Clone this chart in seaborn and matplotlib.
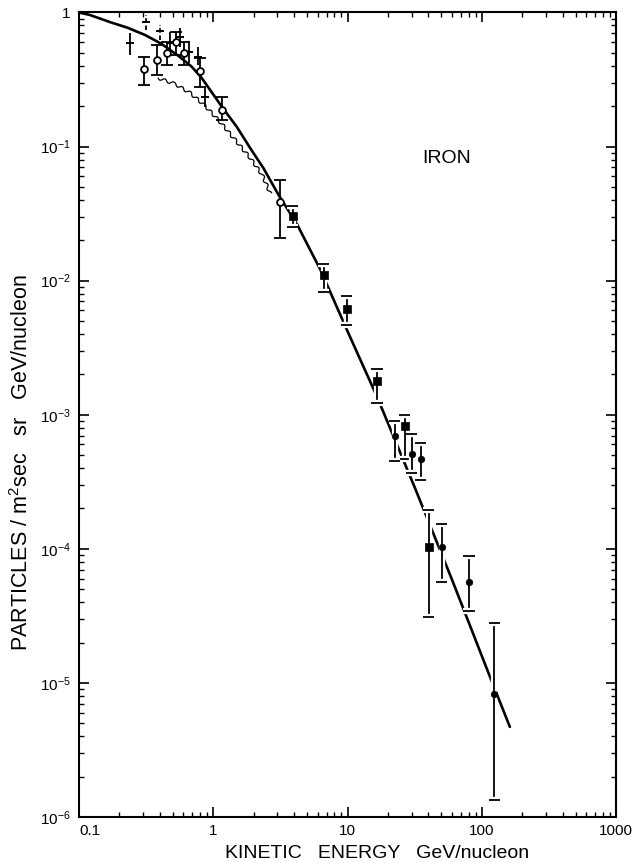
import matplotlib
matplotlib.use("Agg")
import numpy as np
import pandas as pd
import matplotlib.pyplot as plt
import matplotlib.patheffects as pe
from matplotlib.ticker import LogLocator, NullFormatter
import seaborn as sns

# Fitted iron spectrum (kinetic energy in GeV/nucleon, flux)
curve_e = [0.1, 0.12, 0.175, 0.23, 0.31, 0.41, 0.55, 0.69, 0.82, 1.0, 1.16, 1.5,
           1.89, 2.37, 3.07, 4.2, 6.3, 10, 16.6, 32, 60, 120, 162]
curve_flux = [1.0, 0.96, 0.84, 0.77, 0.68, 0.585, 0.475, 0.395, 0.325, 0.245, 0.198, 0.14,
              0.097, 0.0688, 0.0435, 0.0264, 0.012, 0.0042, 0.00136, 2.8e-4, 5.9e-5, 1.0e-5, 4.7e-6]

# Solar-modulated reference spectrum (wavy trace)
wiggle_e = [0.389, 0.52, 0.674, 0.872, 1.128, 1.459, 1.888, 2.321, 2.663]
wiggle_flux = [0.3245, 0.2927, 0.2508, 0.2006, 0.1524, 0.1118, 0.0821, 0.0613, 0.0447]

# Balloon data, crosses
cross_e = [0.24, 0.477, 0.568, 0.66, 0.764, 0.87]
cross_flux = [0.59, 0.59, 0.66, 0.51, 0.468, 0.235]
cross_lo = [0.485, 0.50, 0.556, 0.418, 0.406, 0.198]
cross_hi = [0.70, 0.715, 0.766, 0.605, 0.556, 0.272]

# Crosses with dashed uncertainty
dash_e = [0.318, 0.40]
dash_flux = [0.849, 0.724]
dash_lo = [0.744, 0.627]
dash_hi = [0.953, 0.811]

# Open circles
open_e = [0.307, 0.38, 0.45, 0.53, 0.61, 0.80, 1.16, 3.12]
open_flux = [0.379, 0.442, 0.50, 0.605, 0.50, 0.368, 0.187, 0.0387]
open_lo = [0.288, 0.342, 0.406, 0.48, 0.406, 0.279, 0.158, 0.0207]
open_hi = [0.463, 0.572, 0.605, 0.72, 0.605, 0.455, 0.235, 0.0562]

# Filled squares
sq_e = [3.9, 6.65, 9.84, 16.6, 26.6, 40.4]
sq_flux = [0.0303, 0.01094, 0.0062, 0.00179, 0.000825, 1.03e-4]
sq_lo = [0.0252, 0.00825, 0.00471, 0.00123, 0.000471, 3.1e-5]
sq_hi = [0.036, 0.0133, 0.00766, 0.0022, 0.001, 1.96e-4]

# Filled circles
dot_e = [22.4, 30.0, 35.1, 50.3, 80.4, 123.6]
dot_flux = [6.95e-4, 5.13e-4, 4.66e-4, 1.03e-4, 5.65e-5, 8.3e-6]
dot_lo = [4.52e-4, 3.7e-4, 3.25e-4, 5.7e-5, 3.42e-5, 1.33e-6]
dot_hi = [9.0e-4, 7.24e-4, 6.16e-4, 1.52e-4, 8.8e-5, 2.79e-5]

x_ticks = [0.1, 1, 10, 100, 1000]
x_ticklabels = ["0.1", "1", "10", "100", "1000"]
y_ticks = [1e-6, 1e-5, 1e-4, 1e-3, 1e-2, 1e-1, 1]
y_ticklabels = ["10$^{-6}$", "10$^{-5}$", "10$^{-4}$", "10$^{-3}$",
                "10$^{-2}$", "10$^{-1}$", "1"]

sns.set_theme(style="ticks")
plt.rcParams["font.family"] = ["Liberation Sans", "DejaVu Sans"]
plt.rcParams["mathtext.fontset"] = "custom"
plt.rcParams["mathtext.rm"] = "Liberation Sans"
plt.rcParams["mathtext.it"] = "Liberation Sans:italic"
plt.rcParams["mathtext.bf"] = "Liberation Sans:bold"

W, H = 632, 863
fig = plt.figure(figsize=(W / 100, H / 100), dpi=100)
fig.patch.set_facecolor("white")
ax = fig.add_axes([79 / W, 1 - 817 / H, (616 - 79) / W, (817 - 12.5) / H])
ax.set_facecolor("white")
ax.set_xscale("log")
ax.set_yscale("log")
ax.set_xlim(0.1, 1000)
ax.set_ylim(1e-6, 1)

# main curve
sns.lineplot(x=curve_e, y=curve_flux, ax=ax, color="black", linewidth=1.9,
             sort=False, estimator=None, zorder=2)

# wavy trace
sns.lineplot(x=wiggle_e, y=wiggle_flux, ax=ax, color="black", linewidth=0.9,
             sort=False, estimator=None, zorder=2)
ax.lines[-1].set_sketch_params(scale=1.5, length=9.0, randomness=1.0)


def bars(xs, ys, lo, hi, capsize=4.0, ls="-", halo=False):
    ys = np.asarray(ys)
    err = [ys - np.asarray(lo), np.asarray(hi) - ys]
    cont = ax.errorbar(xs, ys, yerr=err, fmt="none", ecolor="black",
                       elinewidth=1.3, capsize=capsize, capthick=1.3, zorder=3)
    for coll in cont.lines[2]:
        coll.set_linestyle(ls)
    if halo:
        effects = [pe.Stroke(linewidth=4.5, foreground="white"), pe.Normal()]
        for coll in cont.lines[2]:
            coll.set_path_effects(effects)
        for cap in cont.lines[1]:
            cap.set_path_effects(effects)
    return cont


bars(cross_e, cross_flux, cross_lo, cross_hi, capsize=0)
bars(dash_e, dash_flux, dash_lo, dash_hi, capsize=0, ls=(0, (2.5, 1.5)))
bars(open_e, open_flux, open_lo, open_hi)
bars(sq_e, sq_flux, sq_lo, sq_hi, halo=True)
bars(dot_e, dot_flux, dot_lo, dot_hi, halo=True)

sns.scatterplot(x=cross_e + dash_e, y=cross_flux + dash_flux, ax=ax, marker="_",
                s=30, color="black", linewidth=1.4, zorder=4, legend=False)
sns.scatterplot(x=open_e, y=open_flux, ax=ax, marker="o", s=24, facecolor="white",
                edgecolor="black", linewidth=1.3, zorder=4, legend=False)
sns.scatterplot(x=sq_e, y=sq_flux, ax=ax, marker="s", s=30, color="black",
                edgecolor="black", linewidth=0.5, zorder=4, legend=False)
sns.scatterplot(x=dot_e, y=dot_flux, ax=ax, marker="o", s=22, color="black",
                edgecolor="black", linewidth=0.5, zorder=4, legend=False)

ax.set_xlim(0.1, 1000)
ax.set_ylim(1e-6, 1)

# frame and ticks
for side in ax.spines.values():
    side.set_visible(True)
    side.set_linewidth(1.5)
    side.set_color("black")
ax.set_xticks(x_ticks)
ax.set_xticklabels(x_ticklabels)
ax.set_yticks(y_ticks)
ax.set_yticklabels(y_ticklabels)
ax.xaxis.set_minor_locator(LogLocator(base=10, subs=np.arange(2, 10), numticks=20))
ax.yaxis.set_minor_locator(LogLocator(base=10, subs=np.arange(2, 10), numticks=20))
ax.xaxis.set_minor_formatter(NullFormatter())
ax.yaxis.set_minor_formatter(NullFormatter())
ax.tick_params(which="both", direction="in", top=True, right=True,
               color="black", labelcolor="black")
ax.tick_params(which="major", length=7, width=1.2, labelsize=11)
ax.tick_params(which="minor", length=3.8, width=1.0)
ax.tick_params(axis="x", which="major", pad=5)
ax.tick_params(axis="y", which="major", pad=6)
xl = ax.get_xticklabels()
xl[0].set_horizontalalignment("left")
ax.grid(False)

ax.set_xlabel("KINETIC   ENERGY   GeV/nucleon", fontsize=14, color="black")
ax.xaxis.set_label_coords(0.555, -0.035)
ax.set_ylabel("PARTICLES / m$^2$sec   sr   GeV/nucleon", fontsize=15.5, color="black")
ax.yaxis.set_label_coords(-0.085, 0.44)

ax.text(0.685, 0.819, "IRON", transform=ax.transAxes, fontsize=14,
        ha="center", va="center", color="black")

fig.savefig("out.png", dpi=100, facecolor="white")
